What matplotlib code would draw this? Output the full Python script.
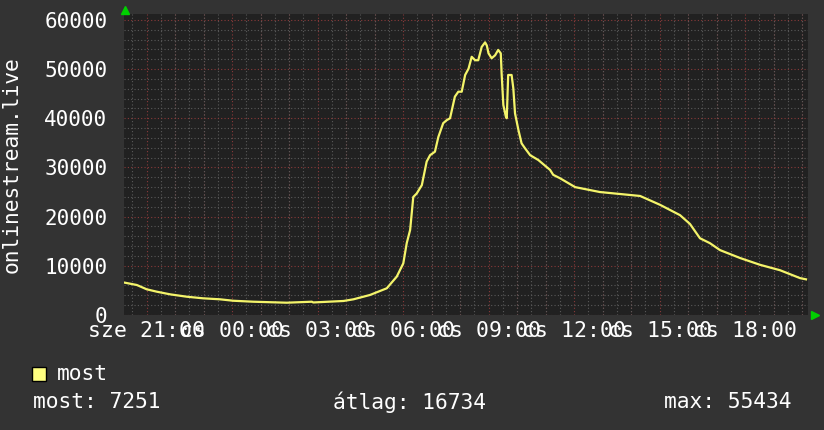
import matplotlib
matplotlib.use('Agg')
import matplotlib.pyplot as plt
from matplotlib.ticker import MultipleLocator

# ==========================================
# 1. Data (hours after 21:00, viewers)
# ==========================================
hours = [-0.79, -0.75, -0.34, 0.01, 0.36, 0.83, 1.41, 1.99, 2.58, 3.04, 3.75, 4.92,
         5.80, 5.85, 6.91, 7.26, 7.84, 8.43, 8.78, 9.01, 9.13, 9.25, 9.36, 9.48,
         9.66, 9.83, 9.95, 10.12, 10.24, 10.41, 10.53, 10.65, 10.82, 10.94, 11.06,
         11.18, 11.30, 11.41, 11.53, 11.64, 11.76, 11.88, 11.94, 12.00, 12.11, 12.23,
         12.34, 12.43, 12.46, 12.52, 12.61, 12.64, 12.69, 12.81, 12.87, 12.93, 13.05,
         13.16, 13.28, 13.46, 13.75, 14.16, 14.27, 14.51, 15.04, 15.91, 17.32, 18.02,
         18.72, 19.07, 19.42, 19.77, 20.12, 20.82, 21.53, 22.23, 22.93, 23.14]
viewers = [6600, 6560, 6100, 5220, 4740, 4200, 3720, 3390, 3190, 2900, 2700, 2500,
           2700, 2550, 2850, 3190, 4070, 5430, 7800, 10500, 14600, 17300, 24000, 24700,
           26400, 31200, 32500, 33200, 36200, 39000, 39600, 40000, 44400, 45400, 45400,
           48800, 50100, 52500, 51800, 51800, 54500, 55434, 54800, 53200, 52200, 52800,
           53900, 53200, 49100, 42700, 40300, 40000, 48800, 48800, 46100, 41000, 37600,
           34900, 33900, 32500, 31500, 29500, 28500, 27800, 26000, 25000, 24200, 22400,
           20300, 18500, 15600, 14600, 13200, 11600, 10200, 9100, 7500, 7251]

tick_hours = [0, 3, 6, 9, 12, 15, 18, 21]
tick_labels = ['sze 21:00', 'cs 00:00', 'cs 03:00', 'cs 06:00',
               'cs 09:00', 'cs 12:00', 'cs 15:00', 'cs 18:00']

# ==========================================
# 2. Style
# ==========================================
FG = 'white'
RED = '#8a3a3a'
plt.rcParams['font.family'] = 'DejaVu Sans Mono'

fig = plt.figure(figsize=(8.24, 4.30), dpi=100, facecolor='#333333')
ax = fig.add_axes([124/824, 1 - 315/430, 684/824, 301/430], facecolor='#212121')

# ==========================================
# 3. Grid
# ==========================================
ax.set_xlim(-0.79, 23.21)
ax.set_ylim(0, 61200)
ax.set_xticks(tick_hours)
ax.set_xticklabels(tick_labels)
ax.xaxis.set_minor_locator(MultipleLocator(0.5))
ax.yaxis.set_major_locator(MultipleLocator(10000))
ax.yaxis.set_minor_locator(MultipleLocator(2000))
ax.grid(which='minor', color='#5a5a5a', linestyle=(0, (1, 2)), lw=0.8)
ax.yaxis.grid(which='major', color=RED, linestyle=(0, (1, 2)), lw=0.8)
ax.set_axisbelow(True)

# hour gridlines (red), labels stay every 3 hours
for h in range(0, 24):
    ax.axvline(h, color=RED, linestyle=(0, (1, 2)), lw=0.8, zorder=0.5)

ax.tick_params(axis='both', which='both', length=0, colors=FG)
ax.tick_params(axis='x', pad=4, labelsize=15.5)
ax.tick_params(axis='y', pad=12, labelsize=15)

for s in ax.spines.values():
    s.set_visible(False)

# ==========================================
# 4. Data line
# ==========================================
ax.plot(hours, viewers, color='#f4f46a', lw=1.6, zorder=3)

ax.set_ylabel('onlinestream.live', color=FG, fontsize=15.3, labelpad=16)

# axis arrows
fig.add_artist(plt.Line2D([125/824], [1 - 10/430], marker='^', color='#00d000',
                          markersize=6, transform=fig.transFigure))
fig.add_artist(plt.Line2D([815/824], [1 - 315/430], marker='>', color='#00d000',
                          markersize=6, transform=fig.transFigure))

# ==========================================
# 5. Legend / stats
# ==========================================
fig.patches.append(plt.Rectangle((32/824, 1 - 381/430), 14/824, 14/430,
                                 transform=fig.transFigure, facecolor='#ffff80',
                                 edgecolor='black', lw=1))
fig.text(57/824, 1 - 374/430, 'most', color=FG, fontsize=15.3, va='center')
fig.text(33/824, 1 - 402/430, 'most: 7251', color=FG, fontsize=15.3, va='center')
fig.text(333/824, 1 - 402/430, 'átlag: 16734', color=FG, fontsize=15.3, va='center')
fig.text(792/824, 1 - 402/430, 'max: 55434', color=FG, fontsize=15.3, va='center', ha='right')

plt.savefig('out.png', dpi=100, facecolor=fig.get_facecolor())
